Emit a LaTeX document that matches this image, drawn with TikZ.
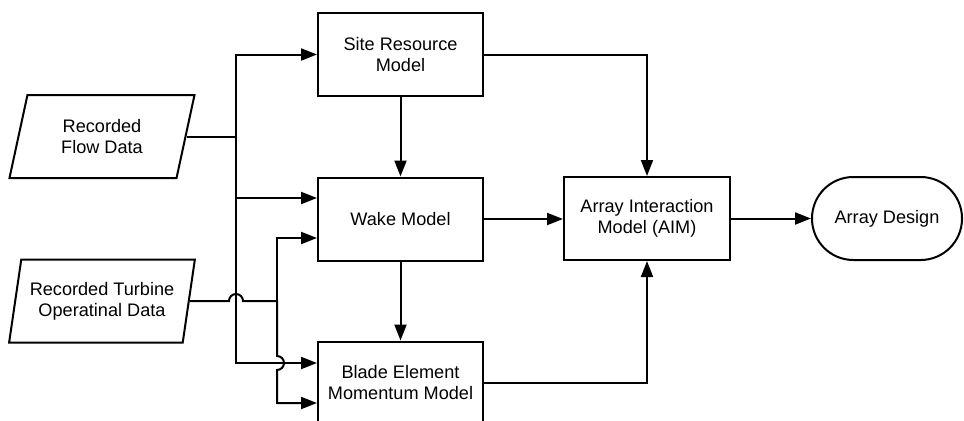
\documentclass[tikz,border=0pt]{standalone}
\usepackage{fontspec}
\setmainfont{Liberation Sans}
\usetikzlibrary{arrows.meta,shapes.geometric,calc}

\begin{document}
\begin{tikzpicture}[x=0.75pt,y=-0.75pt,
  line width=1.5pt,
  every node/.style={font=\fontsize{13.6}{15.75}\selectfont, align=center, line width=1.5pt},
  procbox/.style={draw, rectangle, minimum width=123.75pt, minimum height=62.25pt, inner sep=0pt},
  databox/.style={draw, trapezium, trapezium left angle=74, trapezium right angle=106,
    trapezium stretches=true, minimum width=139.5pt, minimum height=62.25pt, inner sep=0pt},
  termbox/.style={draw, rectangle, rounded corners=31pt, minimum width=112.5pt, minimum height=62.25pt},
  flow/.style={-{Triangle[length=12pt,width=9pt]}},
]
\useasboundingbox (0,0) rectangle (964,421);
\clip (0,0) rectangle (964,421);

% process blocks
\node[procbox] (site) at (400.5,54.5) {Site Resource\\Model};
\node[procbox] (wake) at (400.5,219) {Wake Model};
\node[procbox] (bem) at (400.5,383) {Blade Element\\Momentum Model};
\node[procbox, minimum width=124.5pt] (aim) at (647,218.5) {Array Interaction\\Model (AIM)};
\node[termbox] (design) at (887,218.5) {Array Design};

% input data
\node[databox] (flow) at (102,136.5) {Recorded\\Flow Data};
\node[databox] (turb) at (102,301) {Recorded Turbine\\Operatinal Data};

% bus lines
\coordinate (t1) at (236,0);
\coordinate (t2) at (277,0);

% flow data feeds site, wake and BEM models
\draw (flow.east) -- (flow.east -| t1) coordinate (j1);
\draw[flow] (j1) |- (site.west);
\draw[flow] (j1) |- ($(wake.west)+(0,-21)$);
\draw[flow] (j1) |- ($(bem.west)+(0,-20)$);

% turbine data feeds wake and BEM models, hopping over the first bus
\draw (turb.east) -- ($(turb.east -| t1)+(-7,0)$)
  arc[start angle=180, end angle=0, radius=5.25pt]
  -- (turb.east -| t2) coordinate (j2);
\draw[flow] (j2) |- ($(wake.west)+(0,19)$);
\draw[flow] (j2) -- ($(j2 |- bem.west)+(0,-27)$)
  arc[start angle=90, end angle=-90, radius=5.25pt]
  -- ($(j2 |- bem.west)+(0,20)$) -- ($(bem.west)+(0,20)$);

% model chain
\draw[flow] (site.south) -- (wake.north);
\draw[flow] (wake.south) -- (bem.north);
\draw[flow] (site.east) -| (aim.north);
\draw[flow] (wake.east) -- (wake.east -| aim.west);
\draw[flow] (bem.east) -| (aim.south);
\draw[flow] (aim.east) -- (design.west);
\end{tikzpicture}
\end{document}
